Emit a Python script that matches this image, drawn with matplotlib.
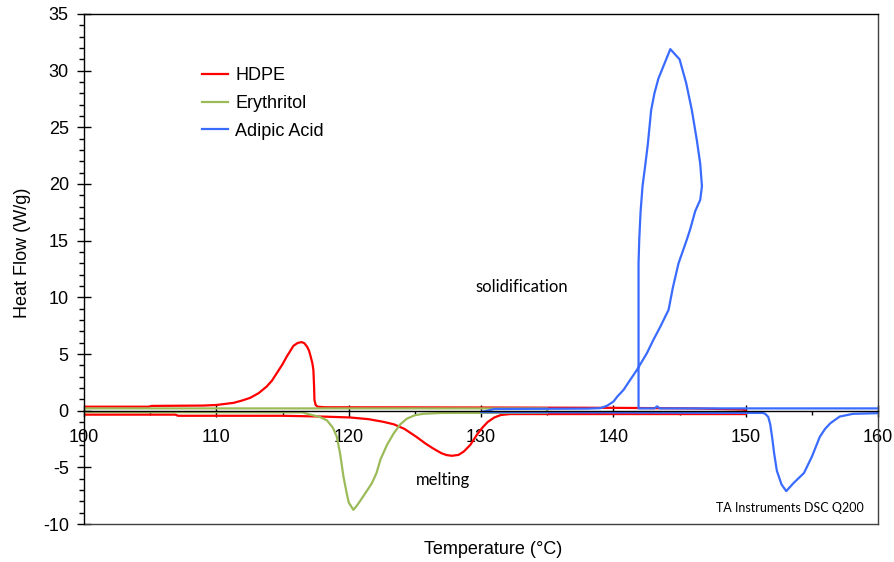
import matplotlib
matplotlib.use("Agg")
import matplotlib.pyplot as plt
from matplotlib.ticker import MultipleLocator

plt.rcParams['font.family'] = ['Liberation Sans', 'DejaVu Sans']
plt.rcParams['axes.unicode_minus'] = False

# HDPE: cooling (upper) and heating (lower) branches, joined at 150 C
hdpe_cool_t = [100, 104.9, 105.1, 109, 110, 111.3, 111.9, 112.55, 113.2, 113.8, 114.2, 114.56,
               115.0, 115.32, 115.6, 115.82, 116.15, 116.45, 116.65, 116.85, 117.0, 117.12,
               117.25, 117.33, 117.38, 117.41, 117.5, 117.65, 118.2, 130, 140, 146, 149.8, 150.0]
hdpe_cool_q = [0.35, 0.35, 0.42, 0.45, 0.5, 0.69, 0.88, 1.13, 1.55, 2.13, 2.65, 3.3,
               4.1, 4.78, 5.3, 5.72, 5.98, 6.05, 5.95, 5.65, 5.3, 4.8,
               4.2, 3.6, 2.2, 0.95, 0.5, 0.35, 0.3, 0.28, 0.25, 0.2, 0.1, 0.0]
hdpe_heat_t = [100, 106.9, 107.1, 115, 116.3, 118, 120.1, 121.5, 122.6, 123.4, 124.2,
               125.1, 125.8, 126.4, 127.0, 127.4, 127.8, 128.3, 128.7, 129.2, 129.7, 130.1,
               130.5, 131.0, 131.5, 132.2, 150]
hdpe_heat_q = [-0.35, -0.35, -0.45, -0.45, -0.48, -0.52, -0.6, -0.75, -0.98, -1.2, -1.6,
               -2.3, -2.9, -3.35, -3.75, -3.92, -3.98, -3.9, -3.6, -3.0, -2.1, -1.5,
               -1.0, -0.6, -0.38, -0.3, -0.3]

# Erythritol
ery_cool_t = [100, 135]
ery_cool_q = [0.2, 0.2]
ery_heat_t = [100, 116.5, 117.1, 117.8, 118.35, 118.8, 119.1, 119.35, 119.6, 119.85,
              120.0, 120.35, 120.6, 120.9, 121.3, 121.75, 122.1, 122.4, 122.9, 123.4,
              123.9, 124.4, 125.0, 125.6, 127, 135]
ery_heat_q = [-0.12, -0.15, -0.35, -0.55, -0.85, -1.5, -2.3, -3.8, -5.8, -7.3,
              -8.1, -8.75, -8.4, -7.9, -7.2, -6.4, -5.5, -4.3, -3.0, -2.0,
              -1.2, -0.7, -0.4, -0.28, -0.2, -0.18]

# Adipic acid: cooling from 160 (supercooled crystallisation loop), then heating
adip_cool_t = [160, 143.5, 143.3, 143.1, 141.9, 141.9, 141.95, 142.05, 142.2, 142.4, 142.6,
               142.85, 143.1, 143.4, 143.85, 144.3, 145.0, 145.5, 145.93, 146.3, 146.56,
               146.69, 146.56, 146.18, 145.8, 145.55, 144.92, 144.5, 144.17, 143.54, 143.0,
               142.53, 141.78, 141.2, 140.77, 140.3, 140.0, 139.5, 139.0, 138, 131, 130]
adip_cool_q = [0.2, 0.2, 0.38, 0.2, 0.2, 13.0, 15.0, 17.5, 19.8, 21.6, 23.5,
               26.5, 28.0, 29.3, 30.6, 31.9, 31.0, 28.9, 26.5, 23.9, 21.8,
               19.8, 18.6, 17.6, 16.0, 15.1, 13.0, 10.9, 8.9, 7.4, 6.2,
               5.07, 3.6, 2.6, 1.84, 1.25, 0.8, 0.42, 0.22, 0.18, 0.15, -0.13]
adip_heat_t = [130, 151.3, 151.47, 151.7, 151.85, 152.0, 152.15, 152.35, 152.7, 153.06,
               153.6, 154.4, 155.0, 155.6, 156.0, 156.4, 157.1, 158.1, 160]
adip_heat_q = [-0.13, -0.2, -0.28, -0.55, -1.2, -2.4, -3.8, -5.3, -6.5, -7.1,
               -6.4, -5.5, -4.05, -2.3, -1.6, -1.1, -0.52, -0.28, -0.22]

red = '#ff0000'
green = '#9bbb59'
blue = '#3a6bff'

fig = plt.figure(figsize=(8.95, 5.62), dpi=100)
ax = fig.add_axes([0.0939, 0.0676, 0.8872, 0.9075])

ax.plot(hdpe_cool_t + hdpe_heat_t[::-1], hdpe_cool_q + hdpe_heat_q[::-1],
        color=red, lw=1.6, label='HDPE')
ax.plot(ery_cool_t + ery_heat_t[::-1], ery_cool_q + ery_heat_q[::-1],
        color=green, lw=1.6, label='Erythritol')
ax.plot(adip_cool_t + adip_heat_t, adip_cool_q + adip_heat_q,
        color=blue, lw=1.6, label='Adipic Acid')

ax.set_xlim(100, 160)
ax.set_ylim(-10, 35)

# x axis drawn along y = 0, box kept around the plot
ax.spines['bottom'].set_position(('data', 0))
ax.plot([0, 1], [0, 0], transform=ax.transAxes, color='#404040', lw=1.0, clip_on=False)
for s in ax.spines.values():
    s.set_linewidth(1.0)
ax.spines['right'].set_color('#404040')

ax.xaxis.set_major_locator(MultipleLocator(10))
ax.xaxis.set_minor_locator(MultipleLocator(5))
ax.yaxis.set_major_locator(MultipleLocator(5))
ax.yaxis.set_minor_locator(MultipleLocator(1))
ax.tick_params(axis='x', which='major', direction='inout', length=8, width=1,
               labelsize=13, pad=9)
ax.tick_params(axis='x', which='minor', direction='out', length=3, width=1)
ax.tick_params(axis='y', which='major', direction='inout', length=10, width=1,
               labelsize=13, pad=6)
ax.tick_params(axis='y', which='minor', direction='out', length=3.5, width=1)

ax.text(0.515, -0.033, 'Temperature (°C)', transform=ax.transAxes,
        ha='center', va='top', fontsize=13)
ax.text(-0.078, 0.531, 'Heat Flow (W/g)', transform=ax.transAxes,
        ha='center', va='center', rotation=90, fontsize=13)

ann = ['Lato', 'DejaVu Sans']
ax.text(129.55, 10.9, 'solidification', family=ann, fontsize=12, va='center')
ax.text(125.1, -6.1, 'melting', family=ann, fontsize=12, va='center')
ax.text(158.9, -8.6, 'TA Instruments DSC Q200', family=ann, fontsize=9,
        ha='right', va='center')

ax.legend(loc='upper left', bbox_to_anchor=(0.1486, 0.896), frameon=False,
          fontsize=13, handlelength=1.45, handletextpad=0.4, labelspacing=0.6,
          borderpad=0, borderaxespad=0)

fig.savefig('out.png', dpi=100)
